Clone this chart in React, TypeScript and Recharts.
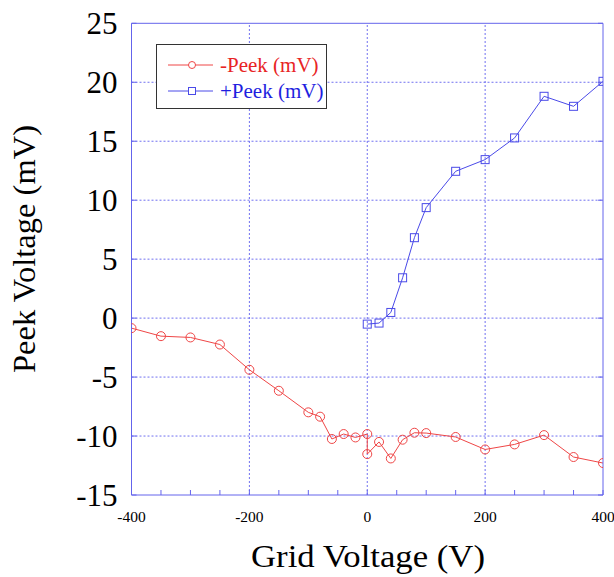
import React from "react";
import {
  LineChart,
  Line,
  XAxis,
  YAxis,
  ReferenceLine,
  Legend,
} from "recharts";

const NEG_NAME = "-Peek (mV)";
const POS_NAME = "+Peek (mV)";
const LEGEND_ORDER = [NEG_NAME, POS_NAME];

const NEG_X = [-400, -350, -300, -250, -200, -150, -100, -80, -60, -40, -20, 0, 0, 20, 40, 60, 80, 100, 150, 200, 250, 300, 350, 400];
const NEG_Y = [-0.85, -1.53, -1.64, -2.24, -4.38, -6.16, -7.99, -8.36, -10.25, -9.83, -10.12, -9.83, -11.53, -10.5, -11.9, -10.31, -9.72, -9.75, -10.08, -11.14, -10.71, -9.92, -11.78, -12.29];

const POS_X = [0, 20, 40, 60, 80, 100, 150, 200, 250, 300, 350, 400];
const POS_Y = [-0.51, -0.42, 0.48, 3.42, 6.82, 9.37, 12.45, 13.44, 15.28, 18.81, 17.96, 20.08];

const X_TICKS = [-400, -350, -300, -250, -200, -150, -100, -50, 0, 50, 100, 150, 200, 250, 300, 350, 400];
const X_LABELED = [-400, -200, 0, 200, 400];
const Y_TICKS = [-15, -10, -5, 0, 5, 10, 15, 20, 25];
const X_GRID = [-200, 0, 200];
const Y_GRID = [-10, -5, 0, 5, 10, 15, 20];

const RED = "#ef4646";
const BLUE = "#4a4ae8";
const AXIS = "#6464ec";
const GRID = "#7070f0";
const SERIF = "'Liberation Serif', 'Times New Roman', serif";

const negData = NEG_X.map((x, i) => ({ x, y: NEG_Y[i] }));
const posData = POS_X.map((x, i) => ({ x, y: POS_Y[i] }));

const SquareDot = (props: any) => {
  const { cx, cy, index } = props;
  if (cx == null || cy == null) return null;
  return (
    <rect key={`sq-${index}`} x={cx - 4} y={cy - 4} width={8} height={8} fill="none" stroke={BLUE} strokeWidth={1} />
  );
};

const LegendBox = (props: any) => {
  const items = [...(props.payload || [])].sort(
    (a: any, b: any) => LEGEND_ORDER.indexOf(a.value) - LEGEND_ORDER.indexOf(b.value)
  );
  return (
    <div
      style={{
        position: "relative",
        width: 171,
        height: 65,
        boxSizing: "border-box",
        border: "1.5px solid #333",
        background: "#fff",
        fontFamily: SERIF,
      }}
    >
      {items.map((it: any, i: number) => {
        const isPos = it.value === POS_NAME;
        const col = isPos ? BLUE : RED;
        const top = i === 0 ? 6 : 32;
        return (
          <div key={it.value} style={{ position: "absolute", left: 0, top, height: 28, width: 171 }}>
            <svg width={62} height={28} style={{ position: "absolute", left: 0, top: 0 }}>
              <line x1={11} x2={56} y1={14} y2={14} stroke={col} strokeWidth={1} />
              {isPos ? (
                <rect x={31.5} y={10.5} width={7} height={7} fill="#fff" stroke={col} />
              ) : (
                <circle cx={35} cy={14} r={3.5} fill="#fff" stroke={col} />
              )}
            </svg>
            <span
              style={{
                position: "absolute",
                left: 63,
                top: 0,
                lineHeight: "28px",
                fontSize: 21,
                color: isPos ? "#1e1ee0" : "#e82424",
                whiteSpace: "nowrap",
              }}
            >
              {it.value}
            </span>
          </div>
        );
      })}
    </div>
  );
};

export default function App() {
  return (
    <div style={{ position: "absolute", left: 0, top: 0, width: 614, height: 577, background: "#fff", overflow: "hidden" }}>
      <LineChart
        width={614}
        height={577}
        margin={{ top: 22.3, right: 10, bottom: 22, left: 71.5 }}
      >
        <XAxis
          xAxisId="bottom"
          orientation="bottom"
          type="number"
          dataKey="x"
          domain={[-400, 400]}
          ticks={X_TICKS}
          interval={0}
          height={60}
          stroke={AXIS}
          tickSize={-5}
          tickMargin={21}
          tickFormatter={(v: number) => (X_LABELED.includes(v) ? String(v) : "")}
          tick={{ fontSize: 15.5, fill: "#000", fontFamily: SERIF }}
          allowDataOverflow
        />
        <XAxis
          xAxisId="top"
          orientation="top"
          type="number"
          domain={[-400, 400]}
          ticks={X_TICKS}
          interval={0}
          height={1}
          stroke={AXIS}
          tickSize={-5}
          tickFormatter={() => ""}
          allowDataOverflow
        />
        <YAxis
          yAxisId="left"
          orientation="left"
          type="number"
          domain={[-15, 25]}
          ticks={Y_TICKS}
          interval={0}
          width={60}
          stroke={AXIS}
          tickSize={-5}
          tickMargin={19}
          tick={{ fontSize: 31, fill: "#000", fontFamily: SERIF }}
          allowDataOverflow
        />
        <YAxis
          yAxisId="right"
          orientation="right"
          type="number"
          domain={[-15, 25]}
          ticks={Y_TICKS}
          interval={0}
          width={1}
          stroke={AXIS}
          tickSize={-5}
          tickFormatter={() => ""}
          allowDataOverflow
        />
        {X_GRID.map((v) => (
          <ReferenceLine key={`gx${v}`} x={v} xAxisId="bottom" yAxisId="left" stroke={GRID} strokeDasharray="2 2" />
        ))}
        {Y_GRID.map((v) => (
          <ReferenceLine key={`gy${v}`} y={v} xAxisId="bottom" yAxisId="left" stroke={GRID} strokeDasharray="2 2" />
        ))}
        <Legend
          layout="vertical"
          align="center"
          verticalAlign="middle"
          content={<LegendBox />}
          wrapperStyle={{ left: 156, top: 44, width: 171, height: 65 }}
        />
        <Line
          name={NEG_NAME}
          data={negData}
          dataKey="y"
          xAxisId="bottom"
          yAxisId="left"
          stroke={RED}
          strokeWidth={1}
          dot={{ r: 4.5, fill: "none", stroke: RED, strokeWidth: 1 }}
          isAnimationActive={false}
        />
        <Line
          name={POS_NAME}
          data={posData}
          dataKey="y"
          xAxisId="bottom"
          yAxisId="left"
          stroke={BLUE}
          strokeWidth={1}
          dot={<SquareDot />}
          isAnimationActive={false}
        />
      </LineChart>
      <div
        style={{
          position: "absolute",
          left: 24,
          top: 249,
          transform: "translate(-50%, -50%) rotate(-90deg)",
          fontFamily: SERIF,
          fontSize: 32.5,
          lineHeight: "33px",
          whiteSpace: "nowrap",
          color: "#000",
        }}
      >
        Peek Voltage (mV)
      </div>
      <div
        style={{
          position: "absolute",
          left: 367.5,
          top: 541.5,
          transform: "translateX(-50%) scaleX(1.12)",
          fontFamily: SERIF,
          fontSize: 31,
          lineHeight: "30px",
          whiteSpace: "nowrap",
          color: "#000",
        }}
      >
        Grid Voltage (V)
      </div>
    </div>
  );
}
